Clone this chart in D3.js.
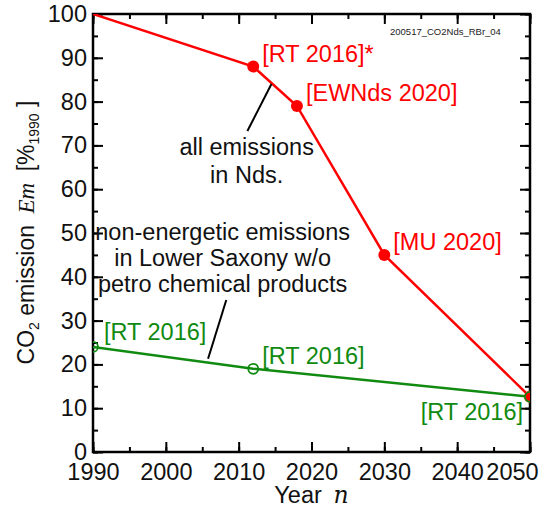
<!DOCTYPE html>
<html>
<head>
<meta charset="utf-8">
<script src="https://cdn.jsdelivr.net/npm/d3@7"></script>
<style>
  body { margin: 0; background: #fff; }
  svg { display: block; font-family: "Liberation Sans", Arial, sans-serif; }
</style>
</head>
<body>
<div id="chart"></div>
<script>
// all emissions in Nds. (red)
const allYears = [1990, 2012, 2018, 2030, 2050];
const allValues = [100, 88, 79, 45, 12.6];
const allMarked = [false, true, true, true, true];
const allSources = [null, '[RT 2016]*', '[EWNds 2020]', '[MU 2020]', null];

// non-energetic emissions w/o petro chemical products (green)
const nonEnYears = [1990, 2012, 2050];
const nonEnValues = [24, 19, 12.6];
const nonEnSources = ['[RT 2016]', '[RT 2016]', '[RT 2016]'];

const xTicks = [1990, 2000, 2010, 2020, 2030, 2040, 2050];
const yTicks = [0, 10, 20, 30, 40, 50, 60, 70, 80, 90, 100];

const width = 541, height = 515;
const margin = {top: 14, right: 11, bottom: 63, left: 93};
const red = '#ff0000', green = '#108a10';
const fs = '23.5px';

const svg = d3.select('#chart').append('svg')
    .attr('width', width)
    .attr('height', height);

const x = d3.scaleLinear().domain([1990, 2050]).range([margin.left, width - margin.right]);
const y = d3.scaleLinear().domain([0, 100]).range([height - margin.bottom, margin.top]);

svg.append('defs').append('clipPath')
    .attr('id', 'plot-clip')
  .append('rect')
    .attr('x', x(1990)).attr('y', y(100))
    .attr('width', x(2050) - x(1990)).attr('height', y(0) - y(100));

// axes, ticks pointing inward on all four sides
const minorX = d3.range(1990, 2051, 5);
const minorY = d3.range(0, 101, 5);
const addAxis = (axis, tx, ty, cls) => {
  const g = svg.append('g')
      .attr('class', cls)
      .attr('transform', `translate(${tx},${ty})`)
      .call(axis);
  g.select('.domain').remove();
  g.selectAll('line').attr('stroke', '#000').attr('stroke-width', 2);
  g.selectAll('text').attr('fill', '#111').style('font-size', fs);
  return g;
};

addAxis(d3.axisBottom(x).tickValues(minorX).tickSize(-5).tickFormat(''), 0, y(0), 'x-minor');
addAxis(d3.axisTop(x).tickValues(minorX).tickSize(-5).tickFormat(''), 0, y(100), 'x-minor-top');
addAxis(d3.axisTop(x).tickValues(xTicks).tickSize(-10).tickFormat(''), 0, y(100), 'x-top');
const xAxis = addAxis(d3.axisBottom(x).tickValues(xTicks).tickSize(-10).tickFormat(d3.format('d')), 0, y(0), 'x-axis');
xAxis.selectAll('text').attr('dy', '0.71em').attr('y', 11);
xAxis.selectAll('.tick').filter(d => d === 2050).select('text').attr('x', -18);

addAxis(d3.axisLeft(y).tickValues(minorY).tickSize(-5).tickFormat(''), x(1990), 0, 'y-minor');
addAxis(d3.axisRight(y).tickValues(minorY).tickSize(-5).tickFormat(''), x(2050), 0, 'y-minor-right');
addAxis(d3.axisRight(y).tickValues(yTicks).tickSize(-10).tickFormat(''), x(2050), 0, 'y-right');
const yAxis = addAxis(d3.axisLeft(y).tickValues(yTicks).tickSize(-10), x(1990), 0, 'y-axis');
yAxis.selectAll('text').attr('x', -6);

svg.append('rect')
    .attr('x', x(1990)).attr('y', y(100))
    .attr('width', x(2050) - x(1990)).attr('height', y(0) - y(100))
    .attr('fill', 'none')
    .attr('stroke', '#000')
    .attr('stroke-width', 2.5);

// series
const line = d3.line().x(d => x(d[0])).y(d => y(d[1]));
const plot = svg.append('g').attr('clip-path', 'url(#plot-clip)');

const allData = allYears.map((yr, i) => [yr, allValues[i]]);
const nonEnData = nonEnYears.map((yr, i) => [yr, nonEnValues[i]]);

plot.append('path')
    .datum(nonEnData)
    .attr('d', line)
    .attr('fill', 'none')
    .attr('stroke', green)
    .attr('stroke-width', 2.5);

plot.append('path')
    .datum(allData)
    .attr('d', line)
    .attr('fill', 'none')
    .attr('stroke', red)
    .attr('stroke-width', 2.5);

plot.selectAll('circle.all')
    .data(allData.filter((d, i) => allMarked[i]))
  .enter().append('circle')
    .attr('class', 'all')
    .attr('cx', d => x(d[0]))
    .attr('cy', d => y(d[1]))
    .attr('r', 6)
    .attr('fill', red);

plot.selectAll('circle.nonen')
    .data(nonEnData)
  .enter().append('circle')
    .attr('class', 'nonen')
    .attr('cx', d => x(d[0]))
    .attr('cy', d => y(d[1]))
    .attr('r', 5)
    .attr('fill', 'none')
    .attr('stroke', green)
    .attr('stroke-width', 1.8);

// source labels next to the points
const label = (text, px, py, color, anchor) => svg.append('text')
    .attr('x', px).attr('y', py)
    .attr('fill', color)
    .attr('text-anchor', anchor || 'start')
    .style('font-size', fs)
    .text(text);

allData.forEach((d, i) => {
  if (allSources[i]) label(allSources[i], x(d[0]) + 9, y(d[1]) - 5, red);
});
label(nonEnSources[0], x(nonEnData[0][0]) + 11, y(nonEnData[0][1]) - 7, green);
label(nonEnSources[1], x(nonEnData[1][0]) + 9, y(nonEnData[1][1]) - 5, green);
label(nonEnSources[2], x(nonEnData[2][0]) - 7, y(nonEnData[2][1]) + 23, green, 'end');

// series descriptions with pointer lines
const note = (lines, cx, baseline, lh) => {
  const t = svg.append('text')
      .attr('text-anchor', 'middle')
      .attr('fill', '#111')
      .style('font-size', fs);
  lines.forEach((s, i) => t.append('tspan').attr('x', x(cx)).attr('y', y(baseline) + i * lh).text(s));
};
const pointer = (x1, y1, x2, y2) => svg.append('line')
    .attr('x1', x(x1)).attr('y1', y(y1))
    .attr('x2', x(x2)).attr('y2', y(y2))
    .attr('stroke', '#000')
    .attr('stroke-width', 2);

note(['all emissions', 'in Nds.'], 2011.1, 67.8, 28);
pointer(2014.5, 84, 2011.2, 73.3);
note(['non-energetic emissions', 'in Lower Saxony w/o', 'petro chemical products'], 2007.8, 48.4, 26);
pointer(2008.3, 34.7, 2005.8, 21.3);

// file tag
svg.append('text')
    .attr('x', 390).attr('y', 35)
    .attr('fill', '#222')
    .style('font-size', '9.5px')
    .text('200517_CO2Nds_RBr_04');

// axis titles
const xTitle = svg.append('text')
    .attr('x', (x(1990) + x(2050)) / 2)
    .attr('y', 503)
    .attr('text-anchor', 'middle')
    .attr('fill', '#111')
    .style('font-size', fs);
xTitle.append('tspan').text('Year\u2002');
xTitle.append('tspan')
    .style('font-family', '"DejaVu Serif", "Liberation Serif", serif')
    .style('font-style', 'italic')
    .text('n');

const yTitle = svg.append('text')
    .attr('transform', `translate(34,${(98 + 367) / 2}) rotate(-90)`)
    .attr('text-anchor', 'middle')
    .attr('fill', '#111')
    .style('font-size', '23px');
yTitle.append('tspan').text('CO');
yTitle.append('tspan').attr('dy', 5).style('font-size', '14px').text('2');
yTitle.append('tspan').attr('dy', -5).text(' emission\u2002');
yTitle.append('tspan')
    .style('font-family', '"Liberation Serif", "DejaVu Serif", serif')
    .style('font-style', 'italic')
    .text('Em');
yTitle.append('tspan').text('\u2002[%');
yTitle.append('tspan').attr('dy', 5).style('font-size', '14px').text('1990');
yTitle.append('tspan').attr('dy', -5).text(' ]');
</script>
</body>
</html>
